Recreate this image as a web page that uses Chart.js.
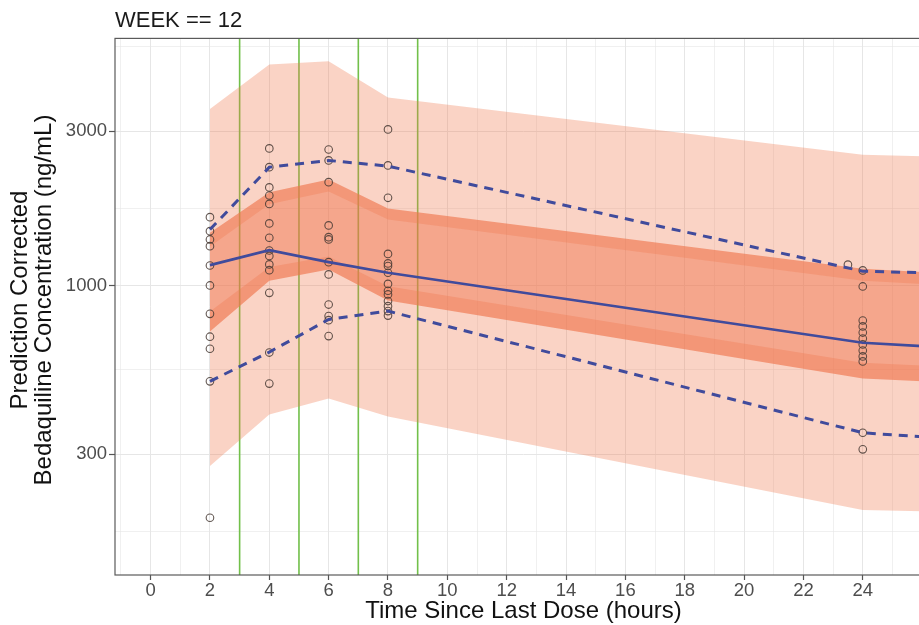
<!DOCTYPE html>
<html>
<head>
<meta charset="utf-8">
<script src="https://cdn.jsdelivr.net/npm/chart.js@4.4.0/dist/chart.umd.min.js"></script>
<style>
  html, body { margin: 0; padding: 0; background: #ffffff; overflow: hidden; width: 919px; height: 625px; }
</style>
</head>
<body>
<!-- o painel continua além da borda direita, como na figura original (recortada) -->
<canvas id="grafico-vpc" width="937" height="625"></canvas>
<script>
// Bins de tempo (horas) usados no VPC
const tempoBins = [2, 4, 6, 8, 24, 26];

// Intervalos de predição simulados
const pi95Sup = [3520, 4830, 4940, 3820, 2540, 2510];
const pi95Inf = [1320, 1785, 1955, 1600, 1035, 1010];
const piMedSup = [1456, 1945, 2130, 1730, 1126, 1100];
const piMedInf = [720, 1035, 1120, 899, 515, 505];
const pi05Sup = [830, 1140, 1230, 995, 577, 565];
const pi05Inf = [276, 399, 447, 393, 202, 200];

// Percentis observados
const obs95 = [1490, 2323, 2438, 2341, 1107, 1095];
const obs50 = [1156, 1286, 1181, 1095, 665, 649];
const obs05 = [505, 622, 785, 833, 350, 340];

// Limites dos bins (linhas verdes)
const limitesBins = [3, 5, 7, 9];

// Observações corrigidas por predição
const obsTempo = [
    2, 2, 2, 2, 2, 2, 2, 2, 2, 2, 2,
    4, 4, 4, 4, 4, 4, 4, 4, 4, 4, 4, 4, 4, 4,
    6, 6, 6, 6, 6, 6, 6, 6, 6, 6, 6, 6,
    8, 8, 8, 8, 8, 8, 8, 8, 8, 8, 8, 8, 8, 8,
    23.5,
    24, 24, 24, 24, 24, 24, 24, 24, 24, 24, 24, 24
];
const obsConc = [
    1627, 1473, 1388, 1323, 1153, 1000, 817, 694, 637, 505, 191,
    2656, 2324, 2011, 1899, 1788, 1556, 1405, 1283, 1234, 1162, 1115, 949, 620, 497,
    2636, 2438, 2088, 1534, 1411, 1388, 1181, 1082, 873, 804, 781, 697,
    3041, 2353, 1868, 1252, 1170, 1149, 1095, 1011, 963, 938, 895, 863, 833, 807,
    1160,
    1113, 993, 779, 747, 715, 685, 657, 629, 603, 582, 350, 311
];

// Eixos
const xTicks = [-1, 0, 1, 2, 3, 4, 5, 6, 7, 8, 9, 10, 11, 12, 13, 14, 15, 16, 17, 18, 19, 20, 21, 22, 23, 24, 25, 26];
const xLabels = [0, 2, 4, 6, 8, 10, 12, 14, 16, 18, 20, 22, 24];
const yTicks = [173, 300, 548, 1000, 1732, 3000, 5477];
const yLabels = [300, 1000, 3000];
const eixoXMin = -1.2;
const eixoXMax = 26.33;
const eixoYMin = 127;
const eixoYMax = 5818;

const corLinha = '#404b9c';
const corFaixaExterna = 'rgba(240, 120, 80, 0.33)';
const corFaixaMediana = 'rgba(240, 115, 75, 0.64)';
const fonte = "'Liberation Sans', Arial, sans-serif";

function pontos(xs, ys) {
    return xs.map((x, i) => ({ x: x, y: ys[i] }));
}

function faixa(label, valores, cor, preencher) {
    return {
        type: 'line',
        label: label,
        data: pontos(tempoBins, valores),
        borderWidth: 0,
        pointRadius: 0,
        tension: 0,
        backgroundColor: cor,
        fill: preencher ? '+1' : false,
        order: 4
    };
}

function linhaObs(label, valores, tracejado) {
    return {
        type: 'line',
        label: label,
        data: pontos(tempoBins, valores),
        borderColor: corLinha,
        borderWidth: tracejado ? 3 : 2.6,
        borderDash: tracejado ? [9, 7] : [],
        pointRadius: 0,
        tension: 0,
        fill: false,
        order: 1
    };
}

const linhasVerdes = limitesBins.map(b => ({
    type: 'line',
    label: 'bin ' + b,
    data: [{ x: b, y: eixoYMin }, { x: b, y: eixoYMax }],
    borderColor: '#72c04a',
    borderWidth: 1.6,
    pointRadius: 0,
    fill: false,
    order: 5
}));

// Borda do painel (estilo theme_bw)
const bordaPainel = {
    id: 'bordaPainel',
    afterDraw(chart) {
        const { ctx, chartArea } = chart;
        ctx.save();
        ctx.strokeStyle = '#5a5a5a';
        ctx.lineWidth = 1.2;
        ctx.strokeRect(chartArea.left, chartArea.top, chartArea.right - chartArea.left, chartArea.bottom - chartArea.top);
        ctx.restore();
    }
};

const ctx = document.getElementById('grafico-vpc').getContext('2d');

const grafico = new Chart(ctx, {
    data: {
        datasets: [
            ...linhasVerdes,
            faixa('PI 95 sup', pi95Sup, corFaixaExterna, true),
            faixa('PI 95 inf', pi95Inf, corFaixaExterna, false),
            faixa('PI mediana sup', piMedSup, corFaixaMediana, true),
            faixa('PI mediana inf', piMedInf, corFaixaMediana, false),
            faixa('PI 5 sup', pi05Sup, corFaixaExterna, true),
            faixa('PI 5 inf', pi05Inf, corFaixaExterna, false),
            {
                type: 'scatter',
                label: 'Observado',
                data: pontos(obsTempo, obsConc),
                pointRadius: 3.8,
                pointBorderWidth: 1.1,
                borderColor: 'rgba(70, 58, 52, 0.85)',
                backgroundColor: 'rgba(0, 0, 0, 0)',
                order: 2
            },
            linhaObs('Obs 95', obs95, true),
            linhaObs('Obs 50', obs50, false),
            linhaObs('Obs 5', obs05, true)
        ]
    },
    options: {
        responsive: false,
        devicePixelRatio: 1,
        animation: false,
        events: [],
        layout: { padding: 0 },
        plugins: {
            legend: { display: false },
            tooltip: { enabled: false },
            title: {
                display: true,
                text: 'WEEK == 12',
                align: 'start',
                fullSize: false,
                color: '#1a1a1a',
                font: { family: fonte, size: 22, weight: 'normal', lineHeight: 1.2 },
                padding: { top: 8, bottom: 4 }
            }
        },
        scales: {
            x: {
                type: 'linear',
                min: eixoXMin,
                max: eixoXMax,
                afterBuildTicks: scale => {
                    scale.ticks = xTicks.map(v => ({ value: v }));
                },
                afterFit: scale => { scale.height = 50; },
                ticks: {
                    autoSkip: false,
                    maxRotation: 0,
                    padding: 0,
                    color: '#4d4d4d',
                    font: { family: fonte, size: 18.5 },
                    callback: value => xLabels.includes(value) ? String(value) : ''
                },
                grid: {
                    color: '#e6e6e6',
                    lineWidth: c => xLabels.includes(c.tick.value) ? 1 : 0.6,
                    tickLength: 5,
                    tickColor: c => xLabels.includes(c.tick.value) ? '#555555' : 'rgba(0,0,0,0)',
                    tickWidth: 1.2
                },
                border: { display: false },
                title: {
                    display: true,
                    text: 'Time Since Last Dose (hours)',
                    color: '#111111',
                    font: { family: fonte, size: 24, lineHeight: 1.15 },
                    padding: { top: 0, bottom: 0 }
                }
            },
            y: {
                type: 'logarithmic',
                min: eixoYMin,
                max: eixoYMax,
                bounds: 'data',
                afterBuildTicks: scale => {
                    scale.ticks = yTicks.map(v => ({ value: v }));
                },
                afterFit: scale => { scale.width = 115; },
                ticks: {
                    autoSkip: false,
                    padding: 2,
                    color: '#4d4d4d',
                    font: { family: fonte, size: 18.5 },
                    callback: value => yLabels.includes(value) ? String(value) : ''
                },
                grid: {
                    color: '#e6e6e6',
                    lineWidth: c => yLabels.includes(c.tick.value) ? 1 : 0.6,
                    tickLength: 6,
                    tickColor: c => yLabels.includes(c.tick.value) ? '#555555' : 'rgba(0,0,0,0)',
                    tickWidth: 1.2
                },
                border: { display: false },
                title: {
                    display: true,
                    text: ['  Prediction Corrected', '  Bedaquiline Concentration (ng/mL)'],
                    color: '#111111',
                    font: { family: fonte, size: 24, lineHeight: 1.02 },
                    padding: { top: 8, bottom: 0 }
                }
            }
        }
    },
    plugins: [bordaPainel]
});
</script>
</body>
</html>
